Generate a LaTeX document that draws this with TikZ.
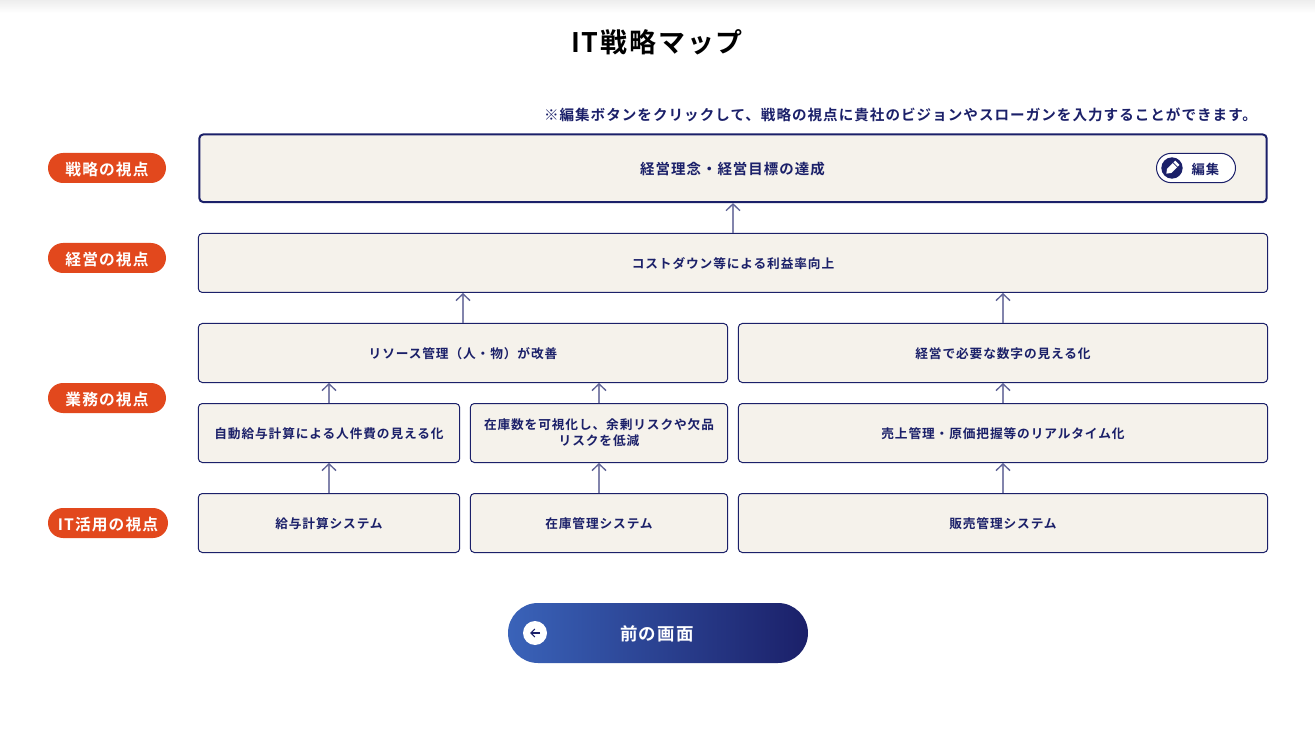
\documentclass[tikz,border=0pt]{standalone}
\usepackage{fontspec}
\usetikzlibrary{arrows.meta}
\newfontfamily\jpfont[LetterSpace=7,BoldFont={Noto Sans CJK JP Bold}]{Noto Sans CJK JP}
\definecolor{navy}{HTML}{1B2069}
\definecolor{paper}{HTML}{F5F2EB}
\definecolor{badgered}{HTML}{E2481D}
\definecolor{btnblue}{HTML}{3A63B9}
\newcommand{\FS}[2]{\fontsize{#1}{#2}\selectfont\jpfont\bfseries}
\tikzset{
  cell/.style={draw=navy,line width=0.75pt,fill=paper,rounded corners=3pt,inner sep=0pt,
    minimum height=44.25pt,text=navy,align=center,font=\FS{9.52pt}{12pt},
    execute at begin node=\rule{0pt}{9.6pt}},
  full/.style={minimum width=802pt},
  half/.style={minimum width=397pt},
  narrow/.style={minimum width=196pt},
  mid/.style={minimum width=193pt},
  badge/.style={fill=badgered,rounded corners=11.25pt,inner sep=0pt,minimum height=22.5pt,
    minimum width=88.5pt,text=white,align=center,font=\FS{11.8pt}{14pt},
    execute at begin node=\rule{0pt}{11.8pt}},
  upline/.style={xshift=-0.4pt,draw=navy!55,line width=1pt,-{Straight Barb[length=5pt,width=10.5pt,color=navy!70]}},
}
\begin{document}
\begin{tikzpicture}[x=0.75pt,y=-0.75pt]
   \useasboundingbox (0,0) rectangle (1315,738);
   \fill[white] (0,0) rectangle (1315,738);
   \fill[top color=black!7,bottom color=white] (0,0) rectangle (1315,13);

   \node (title) at (657,42.5) [text=black,font=\FS{20.2pt}{24pt}] {IT戦略マップ};
   \node (note) at (900.5,114.5) [text=navy,font=\FS{10.92pt}{14pt}] {※編集ボタンをクリックして、戦略の視点に貴社のビジョンやスローガンを入力することができます。};

   \node (goal) at (733,168.25) [cell,line width=1.5pt,minimum width=800.5pt,minimum height=50.75pt] {};
   \node (goaltext) at (732.5,169) [text=navy,font=\FS{10.85pt}{14pt}] {経営理念・経営目標の達成};
   \node (editbtn) at (1196,168) [draw=navy,line width=0.75pt,fill=white,rounded corners=11pt,minimum width=59.25pt,minimum height=22pt,inner sep=0pt] {};
   \node (edittext) at (1205.5,169) [text=navy,font=\FS{10pt}{12pt}] {編集};
   \node (editicon) at (1172,168) [circle,fill=navy,minimum size=16pt,inner sep=0pt] {};
   \fill[white,rotate around={-45:(1172,168)}] (1169,160.5) -- (1175,160.5) -- (1175,172) -- (1172,176) -- (1169,172) -- cycle;
   \draw[navy,line width=0.5pt,rotate around={-45:(1172,168)}] (1168.5,163.5) -- (1175.5,163.5);

   \node (profit) at (733,263) [cell,full] {コストダウン等による利益率向上};
   \node (resource) at (463,353) [cell,half] {リソース管理（人・物）が改善};
   \node (figures) at (1003,353) [cell,half] {経営で必要な数字の見える化};
   \node (payauto) at (329,433) [cell,narrow] {自動給与計算による人件費の見える化};
   \node (stockview) at (599,433) [cell,mid] {在庫数を可視化し、余剰リスクや欠品\\リスクを低減};
   \node (salesview) at (1003,433) [cell,half] {売上管理・原価把握等のリアルタイム化};
   \node (paysys) at (329,523) [cell,narrow] {給与計算システム};
   \node (stocksys) at (599,523) [cell,mid] {在庫管理システム};
   \node (salessys) at (1003,523) [cell,half] {販売管理システム};

   \node (view1) at (107,168) [badge] {戦略の視点};
   \node (view2) at (107,258) [badge] {経営の視点};
   \node (view3) at (107,398) [badge] {業務の視点};
   \node (view4) at (108,523) [badge,minimum width=90pt] {IT活用の視点};

   \draw[upline] (profit.north) -- (goal.south);
   \draw[upline] (resource.north) -- (resource.north |- profit.south);
   \draw[upline] (figures.north) -- (figures.north |- profit.south);
   \draw[upline] (payauto.north) -- (payauto.north |- resource.south);
   \draw[upline] (stockview.north) -- (stockview.north |- resource.south);
   \draw[upline] (salesview.north) -- (figures.south);
   \draw[upline] (paysys.north) -- (payauto.south);
   \draw[upline] (stocksys.north) -- (stockview.south);
   \draw[upline] (salessys.north) -- (salesview.south);

   \node (backbtn) at (658,633) [left color=btnblue,right color=navy,rounded corners=22.5pt,minimum width=225pt,minimum height=45pt,inner sep=0pt] {};
   \node (backtext) at (657,634) [text=white,font=\FS{13.1pt}{16pt}] {前の画面};
   \node (backicon) at (535,633) [circle,fill=white,minimum size=18pt,inner sep=0pt] {};
   \coordinate (tipa) at (530,633);
   \coordinate (tipb) at (540,633);
   \draw[navy,line width=0.8pt,-{Straight Barb[length=3pt,width=6pt]}] (tipb) -- (tipa);
\end{tikzpicture}
\end{document}
